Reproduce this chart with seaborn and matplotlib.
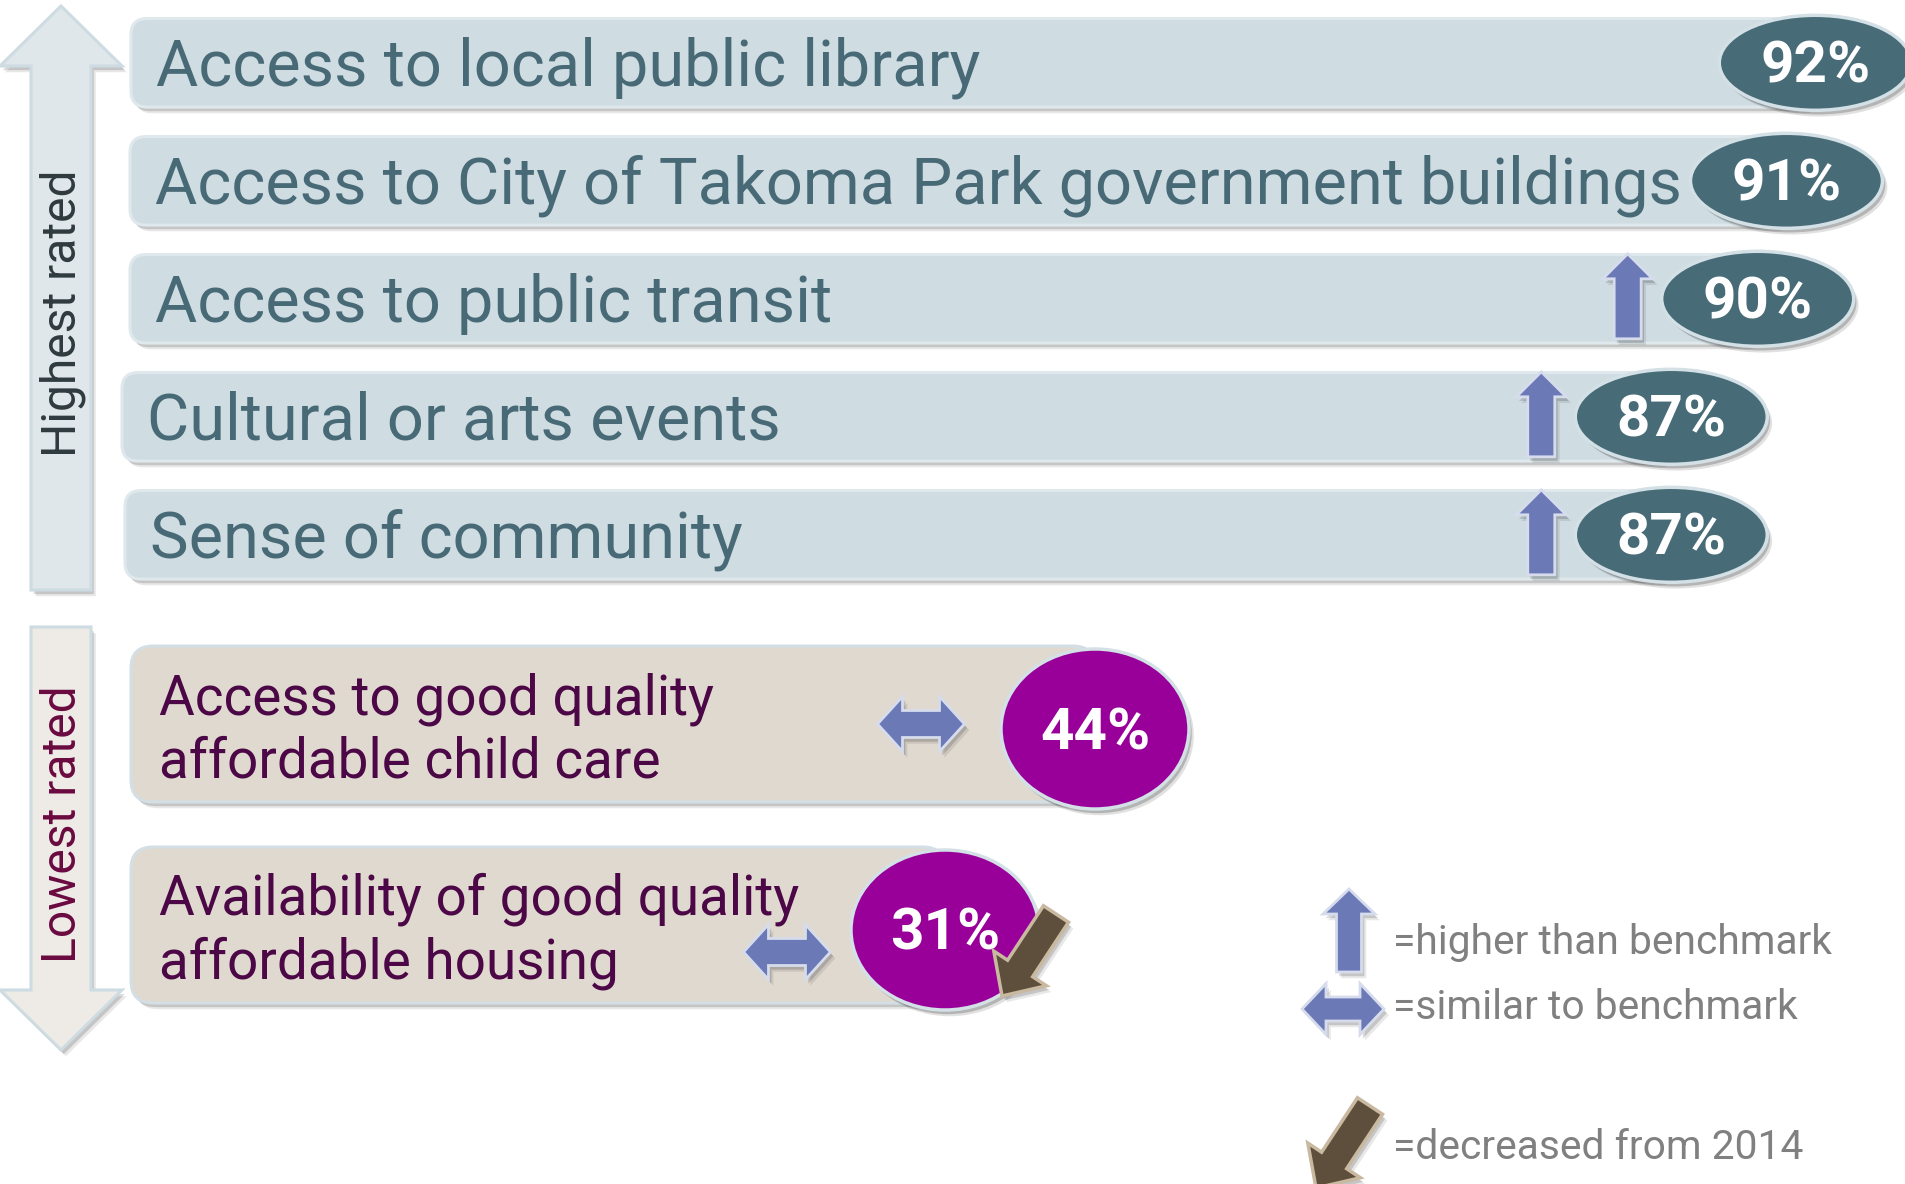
import matplotlib
matplotlib.use("Agg")
import numpy as np
import pandas as pd
import matplotlib.pyplot as plt
import matplotlib.patheffects as pe
from matplotlib.patches import FancyBboxPatch, Ellipse, Polygon
from matplotlib.transforms import IdentityTransform
import seaborn as sns

# ---------------- survey results ----------------
top_items = [
    "Access to local public library",
    "Access to City of Takoma Park government buildings",
    "Access to public transit",
    "Cultural or arts events",
    "Sense of community",
]
top_values = [92, 91, 90, 87, 87]
top_vs_benchmark = ["", "", "higher", "higher", "higher"]

low_items = [
    "Access to good quality\naffordable child care",
    "Availability of good quality\naffordable housing",
]
low_values = [44, 31]
low_vs_benchmark = ["similar", "similar"]
low_change = ["", "decreased"]

group_titles = ["Highest rated", "Lowest rated"]
legend_texts = ["=higher than benchmark", "=similar to benchmark", "=decreased from 2014"]

# ---------------- style ----------------
W, H, DPI = 1905, 1184, 100
TOP_BAR, TOP_EDGE, TOP_TEXT, TOP_BADGE = "#cfdce2", "#dfe8ec", "#486a77", "#486b78"
LOW_BAR, LOW_EDGE, LOW_TEXT, LOW_BADGE = "#e0d9d0", "#d3dfe5", "#4c0746", "#990099"
BADGE_EDGE = "#d3e0e6"
BENCH_FILL, BENCH_EDGE = "#6b7ab6", "#d6dcec"
DOWN_FILL, DOWN_EDGE = "#5e4e3c", "#c8b9a0"
LEGEND_TEXT = "#808080"

# each panel has its own percentage scale: (pixel column of the reference value, reference value, pixels per point)
TOP_SCALE = (1740.4, 89.4, 28.8)
LOW_SCALE = (1095.0, 44.0, 11.54)
TOP_PANEL_LEFT = [131, 130, 130, 122, 125]
LOW_PANEL_LEFT = [131, 131]

sns.set_theme(style="white")
plt.rcParams["font.family"] = ["Roboto", "DejaVu Sans"]

fig = plt.figure(figsize=(W / DPI, H / DPI), dpi=DPI)
fig.patch.set_facecolor("white")
ID = IdentityTransform()


def yd(y_down):
    """Convert a y measured from the top of the canvas to display coordinates."""
    return H - y_down


def shadow(strength=1.0):
    return [
        pe.SimplePatchShadow(offset=(3.5, -4.5), shadow_rgbFace="black", alpha=0.09 * strength),
        pe.SimplePatchShadow(offset=(2.0, -3.0), shadow_rgbFace="black", alpha=0.15 * strength),
        pe.Normal(),
    ]


def arrow_poly(tail, tip, shaft, head_w, head_len):
    tail, tip = np.asarray(tail, float), np.asarray(tip, float)
    u = (tip - tail) / np.linalg.norm(tip - tail)
    n = np.array([-u[1], u[0]])
    base = tip - u * head_len
    return np.array([
        tail + n * shaft / 2, base + n * shaft / 2, base + n * head_w / 2, tip,
        base - n * head_w / 2, base - n * shaft / 2, tail - n * shaft / 2,
    ])


def double_arrow_poly(cx, cy, width, height, shaft, head_len):
    l, r = cx - width / 2, cx + width / 2
    return np.array([
        (l, cy), (l + head_len, cy + height / 2), (l + head_len, cy + shaft / 2),
        (r - head_len, cy + shaft / 2), (r - head_len, cy + height / 2), (r, cy),
        (r - head_len, cy - height / 2), (r - head_len, cy - shaft / 2),
        (l + head_len, cy - shaft / 2), (l + head_len, cy - height / 2),
    ])


def add_poly(pts, fc, ec, lw=2.0, z=6):
    p = Polygon(pts, closed=True, transform=ID, fc=fc, ec=ec, lw=lw, zorder=z,
                joinstyle="miter", path_effects=shadow())
    fig.add_artist(p)


def up_arrow(cx, y_tip, y_tail, width=50, shaft=27):
    add_poly(arrow_poly((cx, y_tail), (cx, y_tip), shaft, width, 25), BENCH_FILL, BENCH_EDGE)


# ---------------- bar axes ----------------
def bar_axes(items, values, top_px, bot_px, first_center, step, width, color, scale):
    ax = fig.add_axes([0, 1 - bot_px / H, 1, (bot_px - top_px) / H])
    df = pd.DataFrame({"item": items, "value": values})
    sns.barplot(data=df, x="value", y="item", orient="h", width=width,
                color=color, ax=ax)
    ref_px, ref_val, per_pt = scale
    ax.set_xlim(ref_val - ref_px / per_pt, ref_val + (W - ref_px) / per_pt)
    ax.set_ylim((bot_px - first_center) / step, (top_px - first_center) / step)
    ax.set_axis_off()
    return ax


ax_top = bar_axes(top_items, top_values, 0, 600, 62.8, 118.0, 0.75, TOP_BAR, TOP_SCALE)
ax_low = bar_axes(low_items, low_values, 600, H, 724.0, 201.0, 0.776, LOW_BAR, LOW_SCALE)


def bar_geometry(ax, bar):
    x_end, y_mid = ax.transData.transform(
        (bar.get_x() + bar.get_width(), bar.get_y() + bar.get_height() / 2))
    _, ya = ax.transData.transform((0, bar.get_y()))
    _, yb = ax.transData.transform((0, bar.get_y() + bar.get_height()))
    return x_end, y_mid, abs(ya - yb)


def draw_panel(left, x_end, y_mid, h, fc, ec, radius, z):
    box = FancyBboxPatch((left, y_mid - h / 2), x_end - left, h,
                         boxstyle=f"round,pad=0,rounding_size={radius}",
                         transform=ID, fc=fc, ec=ec, lw=2.2, zorder=z,
                         path_effects=shadow())
    fig.add_artist(box)


def draw_badge(x, y, w, h, fc, value, z):
    e = Ellipse((x, y), w, h, transform=ID, fc=fc, ec=BADGE_EDGE, lw=2.5,
                zorder=z, path_effects=shadow(1.3))
    fig.text(x, y - 20, f"{value}%", transform=ID, ha="center", va="baseline",
             fontsize=42, fontweight="bold", color="white", zorder=z + 0.5)
    fig.add_artist(e)


# highest rated rows
for k, (bar, label, val, bench) in enumerate(
        zip(ax_top.patches, top_items, top_values, top_vs_benchmark)):
    bar.set_visible(False)
    x_end, y_mid, h = bar_geometry(ax_top, bar)
    left = TOP_PANEL_LEFT[k]
    z = 2 + k * 0.1
    draw_panel(left, x_end, y_mid, h, TOP_BAR, TOP_EDGE, 16, z)
    fig.text(left + 25, y_mid - 23, label, transform=ID, ha="left",
             va="baseline", fontsize=46.7, color=TOP_TEXT, zorder=z + 0.01)
    if bench == "higher":
        up_arrow(x_end - 130, y_mid + 45, y_mid - 40)
    draw_badge(x_end, y_mid, 192, 95, TOP_BADGE, val, 5 + k * 0.1)

# lowest rated rows
similar_offsets = [(-174, 0), (-158, -27)]
for k, (bar, label, val, bench, change) in enumerate(
        zip(ax_low.patches, low_items, low_values, low_vs_benchmark, low_change)):
    bar.set_visible(False)
    x_end, y_mid, h = bar_geometry(ax_low, bar)
    left = LOW_PANEL_LEFT[k]
    z = 2 + k * 0.1
    draw_panel(left, x_end, y_mid, h, LOW_BAR, LOW_EDGE, 22, z)
    for j, line in enumerate(label.split("\n")):
        fig.text(left + 28, y_mid + 10 - 64 * j, line, transform=ID,
                 ha="left", va="baseline", fontsize=39.5, color=LOW_TEXT,
                 zorder=z + 0.01)
    ex, ey = x_end, y_mid - 5
    if bench == "similar":
        dx, dy = similar_offsets[k]
        add_poly(double_arrow_poly(ex + dx, y_mid + dy, 87, 55, 27, 25),
                 BENCH_FILL, BENCH_EDGE)
    draw_badge(ex, ey, 188, 160, LOW_BADGE, val, 5 + k * 0.1)
    if change == "decreased":
        add_poly(arrow_poly((ex + 111, ey + 16), (ex + 57, ey - 66), 30, 63, 33),
                 DOWN_FILL, DOWN_EDGE, lw=2.5, z=7)

# ---------------- group arrows on the left ----------------
for (y_tail, y_tip), fill, title, tcol, y_text in [
        ((590, 6), "#dfe7eb", group_titles[0], "#2f3a3f", 313),
        ((627, 1050), "#eeebe6", group_titles[1], "#6a0a40", 824)]:
    add_poly(arrow_poly((61, yd(y_tail)), (61, yd(y_tip)), 60, 122, 60),
             fill, "#cddbe2", lw=2.2, z=1)
    fig.text(76, yd(y_text), title, transform=ID, rotation=90,
             rotation_mode="anchor", ha="center", va="baseline",
             fontsize=34.6, color=tcol, zorder=1.5)

# ---------------- legend ----------------
up_arrow(1349, yd(889), yd(972), width=52, shaft=25)
add_poly(double_arrow_poly(1343, yd(1009), 82, 51, 24, 24), BENCH_FILL, BENCH_EDGE)
add_poly(arrow_poly((1370, yd(1106)), (1316, yd(1188)), 30, 63, 33),
         DOWN_FILL, DOWN_EDGE, lw=2.5)
for text, base in zip(legend_texts, [954, 1019, 1159]):
    fig.text(1393, yd(base), text, transform=ID, ha="left", va="baseline",
             fontsize=29.3, color=LEGEND_TEXT, zorder=8)

fig.savefig("out.png", dpi=DPI, facecolor="white")
